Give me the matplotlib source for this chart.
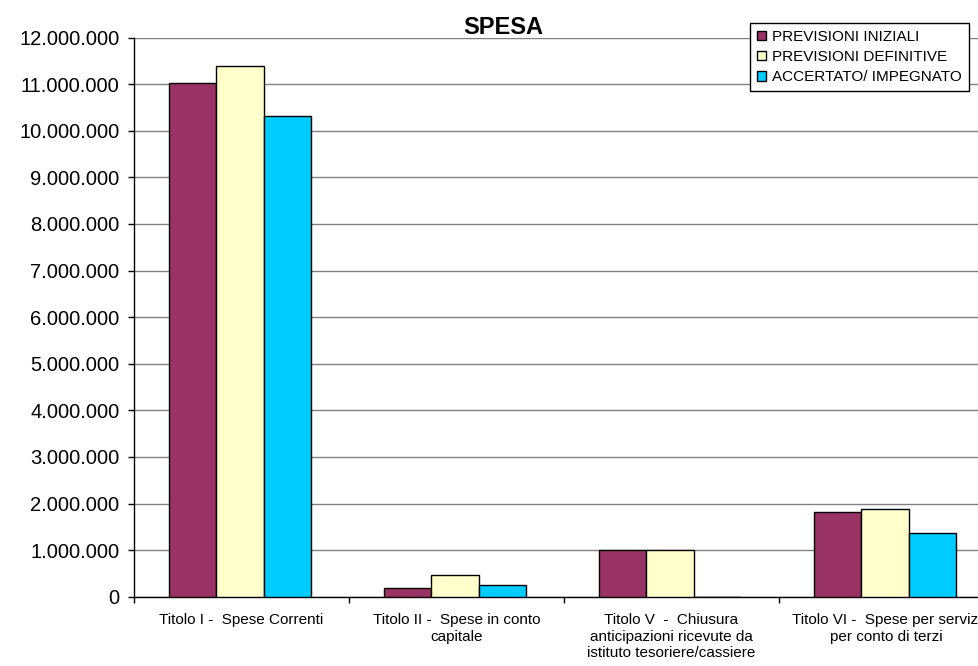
import matplotlib
matplotlib.use("Agg")
import matplotlib.pyplot as plt
from matplotlib.ticker import FuncFormatter, FixedLocator
import numpy as np

plt.rcParams['font.family'] = ['Liberation Sans', 'DejaVu Sans']

# Chart data
categorie = [
    "Titolo I -  Spese Correnti",
    "Titolo II -  Spese in conto\ncapitale",
    "Titolo V  -  Chiusura\nanticipazioni ricevute da\nistituto tesoriere/cassiere",
    "Titolo VI -  Spese per servizi\nper conto di terzi",
]
serie_nomi = ["PREVISIONI INIZIALI", "PREVISIONI DEFINITIVE", "ACCERTATO/ IMPEGNATO"]
previsioni_iniziali = [11_020_000, 180_000, 1_000_000, 1_820_000]
previsioni_definitive = [11_390_000, 460_000, 1_000_000, 1_890_000]
accertato_impegnato = [10_320_000, 250_000, 0, 1_360_000]
y_ticks = list(range(0, 12_000_001, 1_000_000))

colori = ["#993366", "#FFFFCC", "#00CCFF"]

fig = plt.figure(figsize=(9.79, 6.66), dpi=100)
ax = fig.add_axes([134 / 979, (666 - 596.7) / 666, (994 - 134) / 979, (596.7 - 37.5) / 666])

x = np.arange(len(categorie))
w = 0.22
serie = [previsioni_iniziali, previsioni_definitive, accertato_impegnato]
for i, (vals, nome, col) in enumerate(zip(serie, serie_nomi, colori)):
    ax.bar(x + (i - 1) * w - 0.007, vals, width=w, color=col, edgecolor="black",
           linewidth=1.0, label=nome, zorder=3)

ax.set_xlim(-0.5, len(categorie) - 0.5)
ax.set_ylim(0, 12_000_000)

ax.yaxis.set_major_locator(FixedLocator(y_ticks))
ax.yaxis.set_major_formatter(FuncFormatter(lambda v, p: f"{int(v):,}".replace(",", ".")))
ax.grid(axis="y", color="#808080", linewidth=1.0, zorder=0)
ax.tick_params(axis="y", labelsize=14.5, length=4.5, width=1, pad=6, color="black")

# category boundaries as major ticks, labels on the minor ticks at the centres
ax.set_xticks(np.arange(-0.5, len(categorie) + 0.5, 1.0))
ax.set_xticklabels([])
ax.set_xticks(x, minor=True)
ax.set_xticklabels(categorie, minor=True, fontsize=11, color="#000000")
ax.tick_params(axis="x", which="major", length=4, width=1)
ax.tick_params(axis="x", which="minor", length=0, pad=12)

for s in ["top", "right"]:
    ax.spines[s].set_visible(False)
for s in ["left", "bottom"]:
    ax.spines[s].set_color("black")
    ax.spines[s].set_linewidth(1.0)

fig.text(503 / 979, (666 - 28) / 666, "SPESA", ha="center", va="center",
         fontsize=17, fontweight="bold")

leg = fig.legend(loc="upper left", bbox_to_anchor=(750 / 979, (666 - 23) / 666),
                 bbox_transform=fig.transFigure, fontsize=11, frameon=True,
                 fancybox=False, framealpha=1, edgecolor="black",
                 handlelength=0.6, handleheight=0.6, handletextpad=0.4,
                 labelspacing=0.4, borderpad=0.45, borderaxespad=0)
leg.get_frame().set_linewidth(1.0)

fig.savefig("out.png", dpi=100)
